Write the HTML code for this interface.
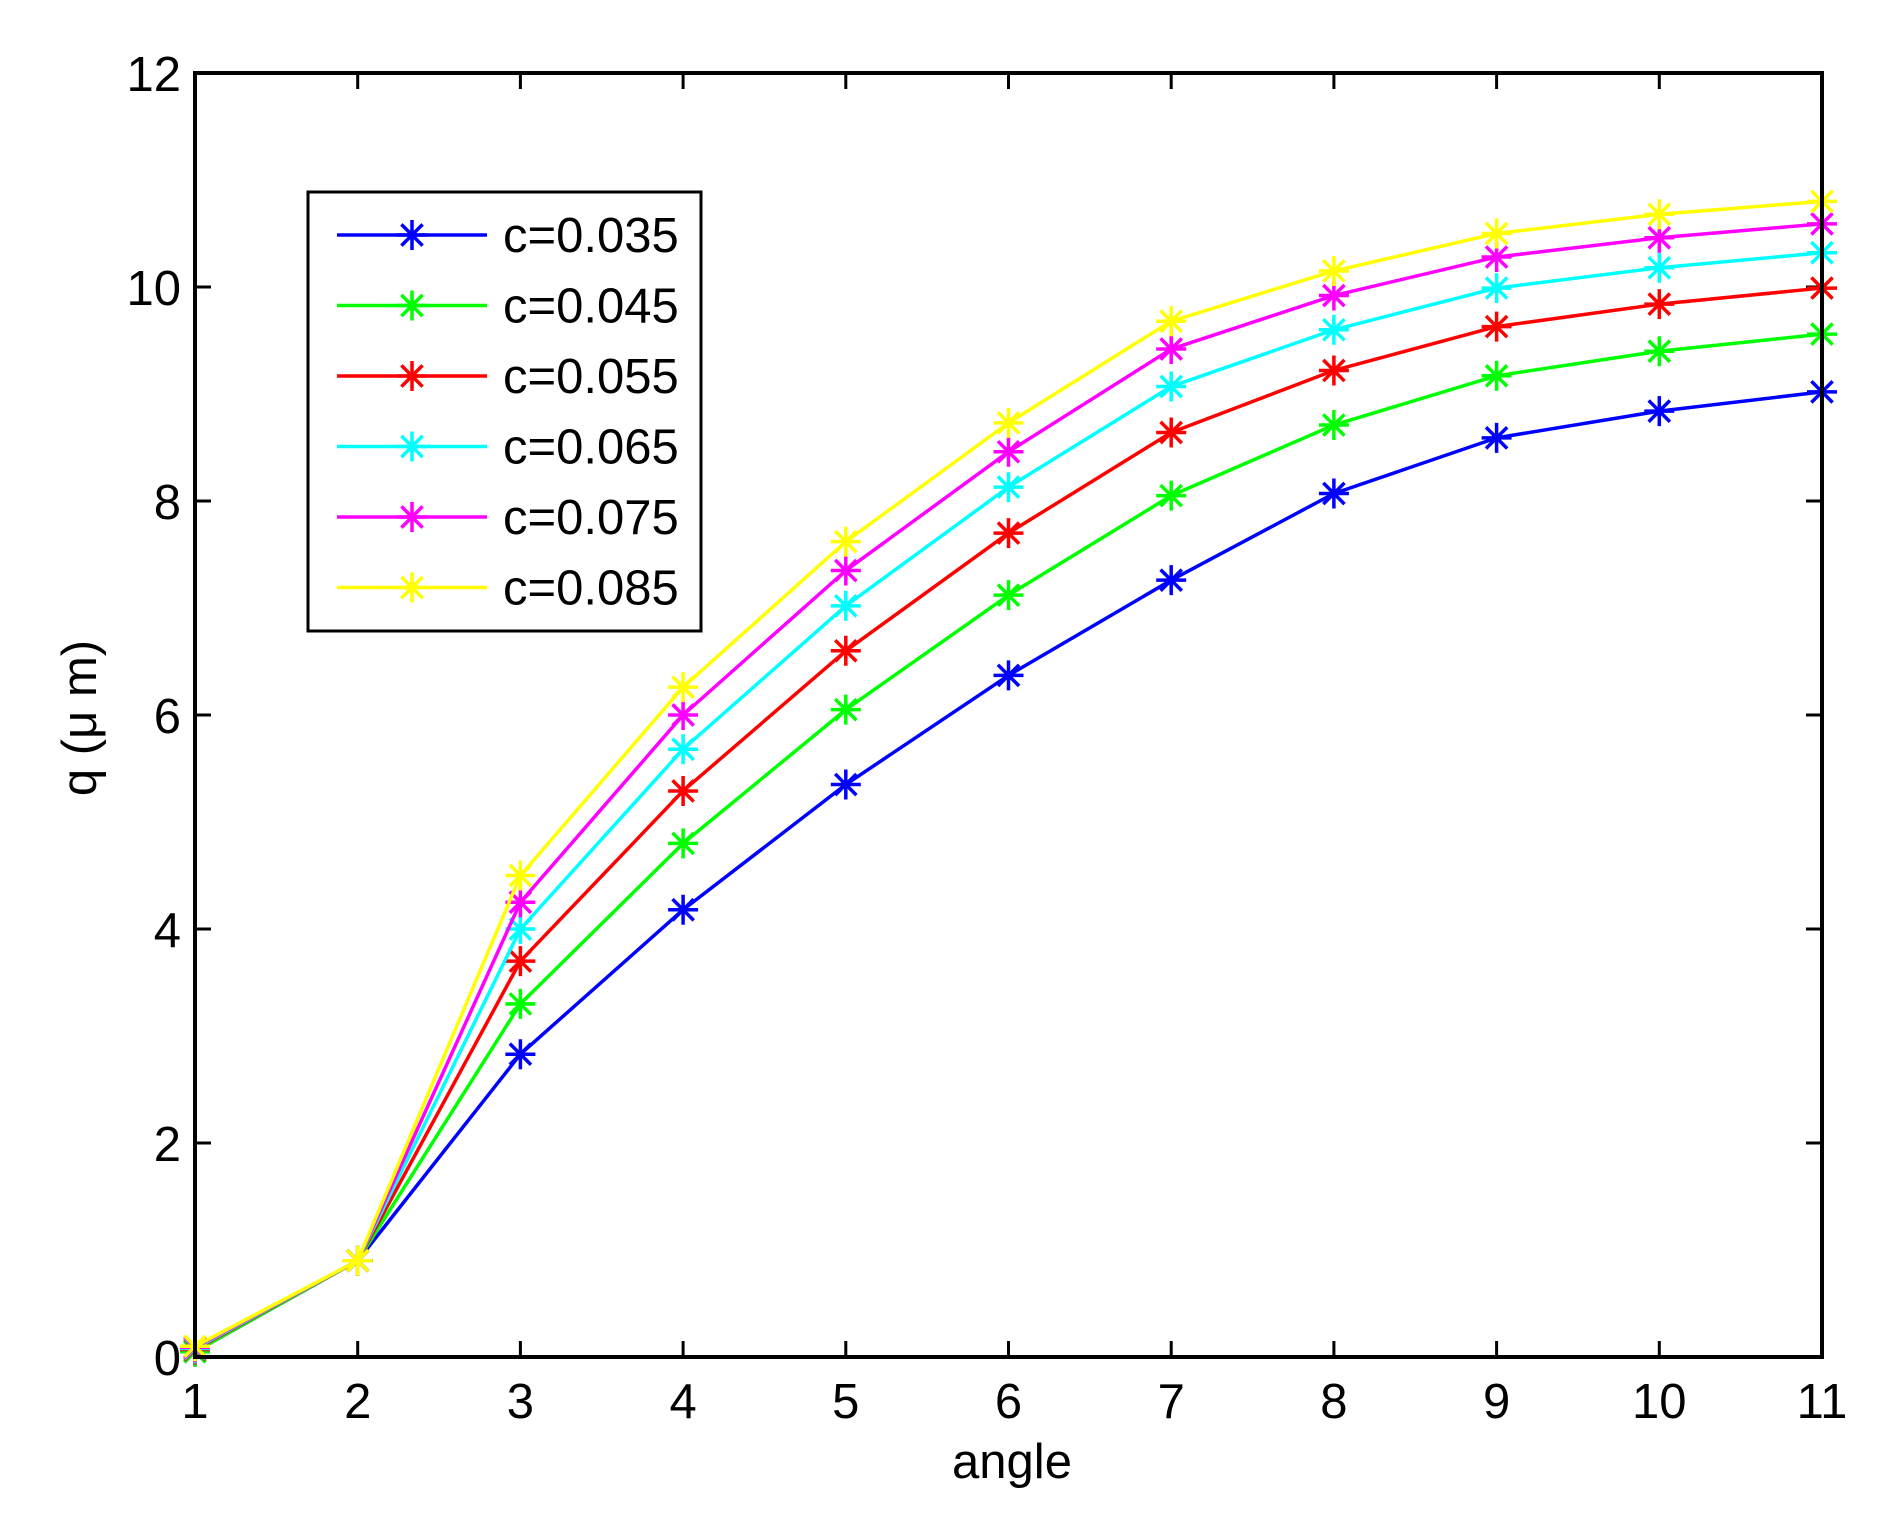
<!DOCTYPE html>
<html><head><meta charset="utf-8"><style>
html,body{margin:0;padding:0;background:#fff;}
svg{display:block;font-family:"Liberation Sans",sans-serif;}
</style></head><body>
<svg id="s" width="1890" height="1536" viewBox="0 0 1890 1536" xmlns="http://www.w3.org/2000/svg"></svg>
<script>
const L=195,R=1822,T=73,B=1357;
const X=v=>L+(v-1)*(R-L)/10, Y=v=>B-v*(B-T)/12;
let h='<rect width="1890" height="1536" fill="#fff"/>';
const data=[
["#0000ff","c=0.035",[0.05,0.9,2.83,4.18,5.35,6.37,7.26,8.07,8.59,8.84,9.02]],
["#00ff00","c=0.045",[0.05,0.9,3.3,4.8,6.05,7.12,8.05,8.71,9.17,9.4,9.56]],
["#ff0000","c=0.055",[0.07,0.9,3.7,5.29,6.6,7.7,8.64,9.22,9.63,9.84,9.99]],
["#00ffff","c=0.065",[0.08,0.9,4.0,5.68,7.02,8.13,9.07,9.6,9.99,10.18,10.32]],
["#ff00ff","c=0.075",[0.09,0.9,4.25,6.0,7.35,8.46,9.42,9.92,10.28,10.46,10.59]],
["#ffff00","c=0.085",[0.1,0.9,4.5,6.26,7.62,8.73,9.68,10.15,10.5,10.68,10.8]]];
function star(x,y,c){const s=15,d=10.6;return `<path d="M${x-s} ${y}H${x+s}M${x} ${y-s}V${y+s}M${x-d} ${y-d}L${x+d} ${y+d}M${x-d} ${y+d}L${x+d} ${y-d}" stroke="${c}" stroke-width="3.5" fill="none"/>`;}
for(let i=1;i<=11;i++){const x=X(i);h+=`<path d="M${x} ${B}V${B-16}M${x} ${T}V${T+16}" stroke="#000" stroke-width="3"/>`;
h+=`<text x="${x}" y="1418" font-size="49" text-anchor="middle">${i}</text>`;}
for(let v=0;v<=12;v+=2){const y=Y(v);h+=`<path d="M${L} ${y}H${L+16}M${R} ${y}H${R-16}" stroke="#000" stroke-width="3"/>`;
h+=`<text x="181" y="${y+18}" font-size="49" text-anchor="end">${v}</text>`;}
data.forEach(([c,n,d])=>{h+=`<polyline points="${d.map((v,i)=>X(i+1)+','+Y(v)).join(' ')}" fill="none" stroke="${c}" stroke-width="3.5" stroke-linejoin="round"/>`;
d.forEach((v,i)=>h+=star(X(i+1),Y(v),c));});
h+=`<rect x="${L}" y="${T}" width="${R-L}" height="${B-T}" fill="none" stroke="#000" stroke-width="4"/>`;
h+=`<rect x="308" y="192" width="393" height="439" fill="#fff" stroke="#000" stroke-width="3"/>`;
data.forEach(([c,n],k)=>{const y=235+k*70.5;h+=`<path d="M337 ${y}H487" stroke="${c}" stroke-width="3.5"/>`+star(412,y,c)+`<text x="503" y="${y+17}" font-size="49">${n}</text>`;});
h+=`<text x="1012" y="1478" font-size="49" text-anchor="middle">angle</text>`;
h+=`<text transform="translate(96 718) rotate(-90)" font-size="49" text-anchor="middle">q (μ m)</text>`;
document.getElementById('s').innerHTML=h;
</script>
</body></html>
